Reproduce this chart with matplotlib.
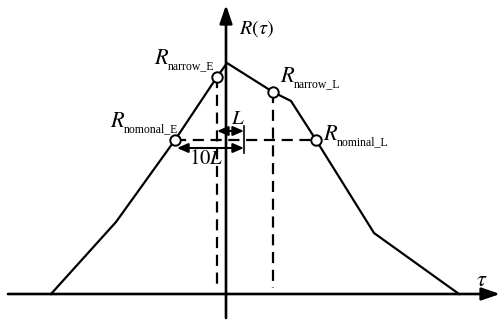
import matplotlib
matplotlib.use("Agg")
import matplotlib.pyplot as plt
from matplotlib.transforms import offset_copy

plt.rcParams['font.family'] = ['Liberation Serif', 'DejaVu Serif']
plt.rcParams['mathtext.fontset'] = 'stix'

# correlation curve (arbitrary units, origin at the axes crossing)
tau = [-175, -110, -51, -9, 1, 47, 65, 90, 148, 233]
R = [0, 72, 154, 217, 231, 202, 193, 154, 61, 0]

# marked points: label subscript, tau, R
pt_names = ['narrow_E', 'nomonal_E', 'narrow_L', 'nominal_L']
pt_tau = [-9, -51, 47, 90]
pt_R = [217, 154, 202, 154]
# where the "R" of each label sits
lab_tau = [-72, -116, 54, 97]
lab_R = [230, 167, 212, 154]

fig = plt.figure(figsize=(5.01, 3.2), dpi=100)
ax = fig.add_axes([0, 0, 1, 1])
ax.set_xlim(-226, 275)
ax.set_ylim(-26, 294)
ax.axis('off')

# axes with arrows
head = '-|>,head_length=1.1,head_width=0.38'
ax.annotate('', xy=(274, 0), xytext=(-218, 0),
            arrowprops=dict(arrowstyle=head, lw=1.9, color='k', shrinkA=0, shrinkB=0))
ax.annotate('', xy=(0, 289), xytext=(0, -24),
            arrowprops=dict(arrowstyle=head, lw=1.9, color='k', shrinkA=0, shrinkB=0))
ax.text(256, 13, r'$\tau$', fontsize=16, ha='center', va='center')
ax.text(31, 265, r'$R(\tau)$', fontsize=14.5, ha='center', va='center')

# curve
ax.plot(tau, R, color='k', lw=1.6, zorder=3)

# dashed guides
dash = dict(color='k', lw=1.6, ls=(0, (5, 3)))
ax.plot([pt_tau[1], pt_tau[3]], [pt_R[1], pt_R[3]], **dash)
ax.plot([pt_tau[0], pt_tau[0]], [pt_R[0], 6], **dash)
ax.plot([pt_tau[2], pt_tau[2]], [pt_R[2], 6], **dash)

# L and 10L spans
span = '<|-|>,head_length=0.65,head_width=0.28'
ax.annotate('', xy=(-9, 163), xytext=(18, 163),
            arrowprops=dict(arrowstyle=span, lw=1.5, color='k', shrinkA=0, shrinkB=0))
ax.annotate('', xy=(-49, 146), xytext=(18, 146),
            arrowprops=dict(arrowstyle=span, lw=1.5, color='k', shrinkA=0, shrinkB=0))
ax.plot([18, 18], [168, 141], color='k', lw=1.2)
ax.text(12, 174, r'$L$', fontsize=15, ha='center', va='center')
ax.text(-20, 135, r'$10L$', fontsize=15, ha='center', va='center')

# marked points and labels
ax.plot(pt_tau, pt_R, 'o', ms=7.5, mfc='white', mec='k', mew=1.4, ls='none', zorder=4)
for name, x, y in zip(pt_names, lab_tau, lab_R):
    ax.text(x, y, r'$R$', fontsize=16, ha='left', va='baseline')
    tr = offset_copy(ax.transData, fig=fig, x=10, y=-3.5, units='points')
    ax.text(x, y, name, fontsize=8.5, ha='left', va='baseline', transform=tr)

fig.savefig('out.png', dpi=100)
